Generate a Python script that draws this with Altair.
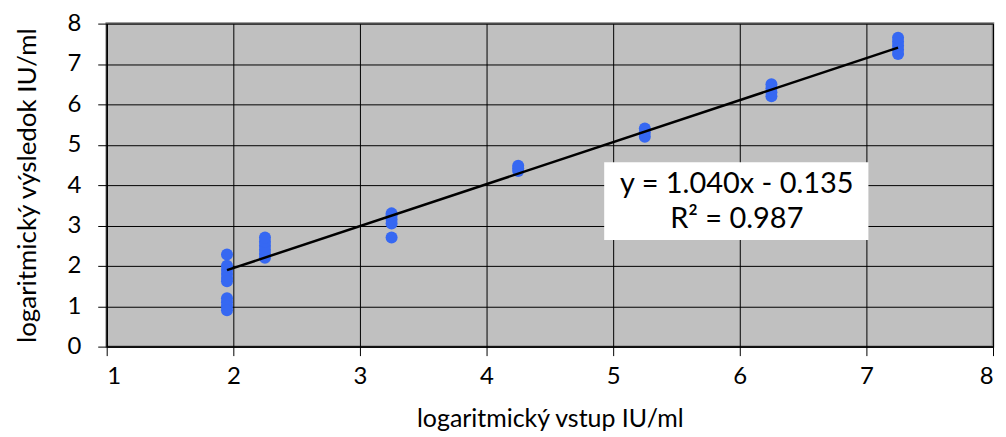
import altair as alt
import pandas as pd

# measured points (log input, log result)
x_in = [1.95]*10 + [2.25]*6 + [3.25]*5 + [4.25]*3 + [5.25]*3 + [6.25]*4 + [7.25]*5
y_out = [2.28, 2.0, 1.9, 1.8, 1.7, 1.62, 1.2, 1.1, 1.0, 0.9,
         2.2, 2.3, 2.4, 2.5, 2.6, 2.7,
         3.05, 3.15, 3.25, 3.3, 2.7,
         4.35, 4.42, 4.48,
         5.2, 5.3, 5.4,
         6.2, 6.3, 6.4, 6.5,
         7.25, 7.35, 7.45, 7.55, 7.65]

trend_x = [1.95, 7.25]
trend_y = [1.893, 7.405]

x_ticks = [1, 2, 3, 4, 5, 6, 7, 8]
y_ticks = [0, 1, 2, 3, 4, 5, 6, 7, 8]

eq_lines = ["y = 1.040x - 0.135", "R² = 0.987"]

FONT = "Lato"

pts = pd.DataFrame({"x": x_in, "y": y_out})
trend = pd.DataFrame({"x": trend_x, "y": trend_y})

xs = alt.Scale(domain=[1, 8], nice=False)
ys = alt.Scale(domain=[0, 8], nice=False)

xaxis = alt.Axis(values=x_ticks, format="d", title="logaritmický vstup IU/ml", grid=True,
                 gridColor="black", gridWidth=1, gridOpacity=1,
                 domainColor="black", domainWidth=1.5, tickColor="black", tickSize=9,
                 labelFontSize=24, labelPadding=9, labelFont=FONT, labelColor="black",
                 titleFontSize=25, titleFont=FONT, titleFontWeight="normal", titleColor="black",
                 titlePadding=18)
yaxis = alt.Axis(values=y_ticks, format="d", title="logaritmický výsledok IU/ml", grid=True,
                 gridColor="black", gridWidth=1, gridOpacity=1,
                 domainColor="black", domainWidth=1.5, tickColor="black", tickSize=9,
                 labelFontSize=24, labelPadding=17, labelFont=FONT, labelColor="black",
                 titleFontSize=26, titleFont=FONT, titleFontWeight="normal", titleColor="black",
                 titlePadding=26)

points = alt.Chart(pts).mark_circle(size=145, color="#3668F2", opacity=1).encode(
    x=alt.X("x:Q", scale=xs, axis=xaxis),
    y=alt.Y("y:Q", scale=ys, axis=yaxis),
)

line = alt.Chart(trend).mark_line(color="black", strokeWidth=2.5).encode(
    x=alt.X("x:Q", scale=xs),
    y=alt.Y("y:Q", scale=ys),
)

box = alt.Chart(pd.DataFrame({"t": [0]})).mark_rect(color="white").encode(
    x=alt.value(499), x2=alt.value(764), y=alt.value(139), y2=alt.value(217)
)

eq = pd.DataFrame({"t": eq_lines, "ypos": [161, 196]})
text = alt.Chart(eq).mark_text(fontSize=29, font=FONT, color="black", align="center",
                               baseline="middle").encode(
    x=alt.value(632), y=alt.Y("ypos:Q", scale=None), text="t:N"
)

chart = alt.layer(points, line, box, text).properties(
    width=889, height=324,
    background="white",
    autosize=alt.AutoSizeParams(type="none"),
    padding={"left": 99, "top": 15, "right": 5, "bottom": 90},
).configure_view(
    fill="#C0C0C0", stroke="#808080", strokeWidth=2.5
)

chart.save("out.html", embed_options={"renderer": "svg", "actions": False})
